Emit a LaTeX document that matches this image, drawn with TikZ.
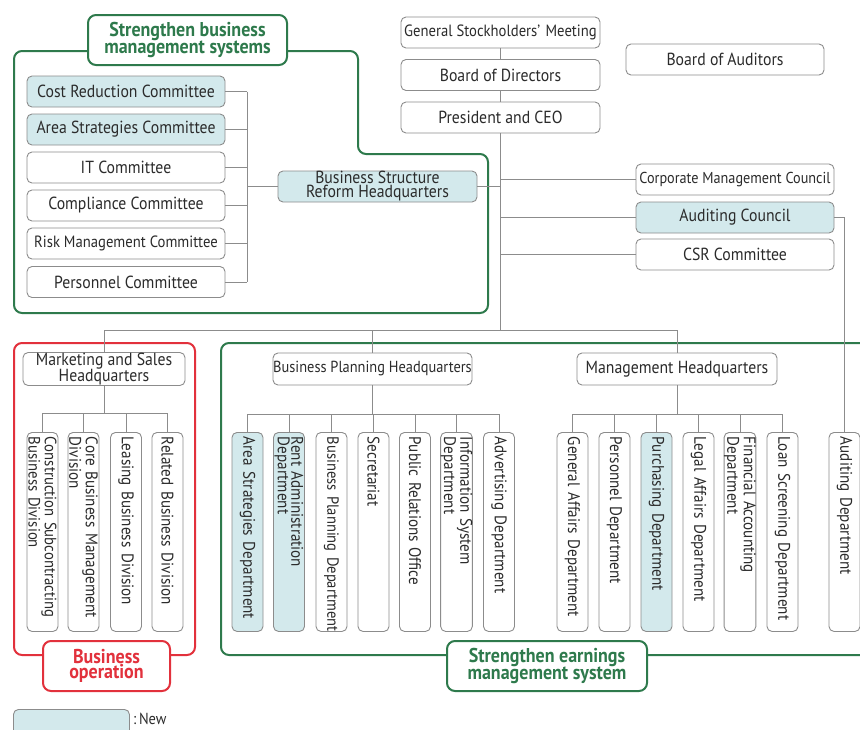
\documentclass[tikz,border=0pt]{standalone}
\usepackage{fontspec}
\setmainfont[FakeStretch=0.9]{PT Sans}
\definecolor{lineg}{HTML}{8C8C8C}
\definecolor{newfill}{HTML}{D3E9EC}
\definecolor{grp}{HTML}{2E7A4C}
\definecolor{opred}{HTML}{E2313C}
\definecolor{txt}{HTML}{2B2B2B}
\begin{document}
\hyphenpenalty=10000
\exhyphenpenalty=10000
\begin{tikzpicture}[x=1pt,y=-1pt,
  every node/.style={font=\fontsize{17.5}{14}\selectfont, text=txt},
  smaller/.style={font=\fontsize{16.3}{14}\selectfont},
  unitbox/.style={draw=lineg, line width=0.9pt, rounded corners=5pt, fill=white,
    minimum height=31pt, inner sep=0pt, align=center},
  newbox/.style={unitbox, fill=newfill},
  vbox/.style={draw=lineg, line width=0.9pt, rounded corners=5pt, fill=white,
    rotate=-90, anchor=west, minimum width=199pt, minimum height=31pt,
    inner xsep=4.5pt, inner ysep=0pt, text width=190pt, align=left,
    font=\fontsize{16.8}{13.5}\selectfont},
  vnew/.style={vbox, fill=newfill},
  vsmall/.style={font=\fontsize{16.2}{13.5}\selectfont},
  conn/.style={draw=lineg, line width=0.9pt},
  grpline/.style={draw=#1, line width=2pt, rounded corners=8pt},
  grplabel/.style={draw=#1, line width=2pt, rounded corners=8pt, fill=white,
    text=#1, font=\bfseries\fontsize{20}{15}\selectfont, align=center, inner sep=0pt}
]
\useasboundingbox (0,0) rectangle (860,729);

% ---- group outlines ----
\draw[grpline=grp] (88,51) -- (14,51) -- (14,313) -- (488,313) -- (488,154)
  -- (358,154) -- (358,51) -- (287,51);
\draw[grpline=opred] (14,343) rectangle (195,655);
\draw[grpline=grp] (870,343) -- (221,343) -- (221,655) -- (870,655);

% ---- top management ----
\node[unitbox, smaller, minimum width=199pt] (gsm) at (500.5,32.5) {General Stockholders'\,\,Meeting};
\node[unitbox, minimum width=199pt] (bod) at (500.5,75) {Board of Directors};
\node[unitbox, minimum width=199pt] (ceo) at (500.5,117.5) {President and CEO};
\node[unitbox, minimum width=198pt] (boa) at (725,59.5) {Board of Auditors};

\node[unitbox, font=\fontsize{15.8}{14}\selectfont, minimum width=198pt] (cmc) at (735,179.5) {Corporate Management Council};
\node[newbox, minimum width=198pt] (audc) at (735,217.5) {Auditing Council};
\node[unitbox, minimum width=198pt] (csr) at (735,254.5) {CSR Committee};

\node[newbox, minimum width=199pt] (bsr) at (377.5,186.5) {Business Structure\\Reform Headquarters};

% ---- committees ----
\node[newbox, minimum width=198pt] (c1) at (126,91.5) {Cost Reduction Committee};
\node[newbox, minimum width=198pt] (c2) at (126,129.5) {Area Strategies Committee};
\node[unitbox, minimum width=198pt] (c3) at (126,167.5) {IT Committee};
\node[unitbox, minimum width=198pt] (c4) at (126,205.5) {Compliance Committee};
\node[unitbox, smaller, minimum width=198pt] (c5) at (126,243.5) {Risk Management Committee};
\node[unitbox, minimum width=198pt] (c6) at (126,282) {Personnel Committee};

% ---- headquarters ----
\node[unitbox, minimum width=162pt, minimum height=32pt] (msh) at (104,369) {Marketing and Sales\\Headquarters};
\node[unitbox, font=\fontsize{16}{14}\selectfont, minimum width=199pt, minimum height=32pt] (bph) at (372.5,369) {Business Planning Headquarters};
\node[unitbox, minimum width=200pt, minimum height=32pt] (mgh) at (677,369) {Management Headquarters};

% ---- divisions and departments ----
\node[vbox, font=\fontsize{16.4}{13.5}\selectfont] (d1) at (42.5,432) {Construction Subcontracting\\Business Division};
\node[vbox] (d2) at (83.5,432) {Core Business Management\\Division};
\node[vbox] (d3) at (126,432) {Leasing Business Division};
\node[vbox] (d4) at (167.5,432) {Related Business Division};

\node[vnew] (p1) at (247.5,432) {Area Strategies Department};
\node[vnew] (p2) at (289,432) {Rent Administration\\Department};
\node[vbox, vsmall] (p3) at (331.5,432) {\mbox{Business Planning Department}};
\node[vbox] (p4) at (373.5,432) {Secretariat};
\node[vbox] (p5) at (415,432) {Public Relations Office};
\node[vbox] (p6) at (456.5,432) {Information System\\Department};
\node[vbox] (p7) at (499,432) {Advertising Department};

\node[vbox] (m1) at (572.5,432) {General Affairs Department};
\node[vbox] (m2) at (614.5,432) {Personnel Department};
\node[vnew] (m3) at (656.5,432) {Purchasing Department};
\node[vbox] (m4) at (698.5,432) {Legal Affairs Department};
\node[vbox] (m5) at (740,432) {Financial Accounting\\Department};
\node[vbox] (m6) at (782.5,432) {Loan Screening Department};

\node[vbox] (aud) at (844.5,432) {Auditing Department};

% ---- connectors ----
\coordinate (spine) at (500.5,330);
\coordinate (brk) at (247,186.5);
\draw[conn] (gsm.south) -- (bod.north);
\draw[conn] (bod.south) -- (ceo.north);
\draw[conn] (ceo.south) -- (spine);
\draw[conn] (bsr.east) -- (bsr.east -| spine);
\draw[conn] (cmc.west) -- (cmc.west -| spine);
\draw[conn] (audc.west) -- (audc.west -| spine);
\draw[conn] (csr.west) -- (csr.west -| spine);
\draw[conn] (audc.east) -- (audc.east -| aud.west) -- (aud.west);

\draw[conn] (c1.east -| brk) -- (c6.east -| brk);
\foreach \c in {c1,c2,c3,c4,c5,c6} \draw[conn] (\c.east) -- (\c.east -| brk);
\draw[conn] (brk) -- (bsr.west);

\draw[conn] (msh.north |- spine) -- (mgh.north |- spine);
\foreach \h in {msh,bph,mgh} \draw[conn] (\h.north |- spine) -- (\h.north);

\coordinate (mbar) at (104,413);
\draw[conn] (msh.south) -- (mbar);
\draw[conn] (d1.west |- mbar) -- (d4.west |- mbar);
\foreach \d in {d1,d2,d3,d4} \draw[conn] (\d.west |- mbar) -- (\d.west);

\coordinate (bbar) at (372.5,414);
\draw[conn] (bph.south) -- (bbar);
\draw[conn] (p1.west |- bbar) -- (p7.west |- bbar);
\foreach \d in {p1,p2,p3,p4,p5,p6,p7} \draw[conn] (\d.west |- bbar) -- (\d.west);

\coordinate (gbar) at (677,414);
\draw[conn] (mgh.south) -- (gbar);
\draw[conn] (m1.west |- gbar) -- (m6.west |- gbar);
\foreach \d in {m1,m2,m3,m4,m5,m6} \draw[conn] (\d.west |- gbar) -- (\d.west);

% ---- group labels ----
\node[grplabel=grp, minimum width=199pt, minimum height=50pt] (lbl1) at (187.5,40) {Strengthen business\\management systems};
\node[grplabel=opred, minimum width=127pt, minimum height=50pt] (lbl2) at (106.5,666) {Business\\operation};
\node[grplabel=grp, minimum width=200pt, minimum height=50pt] (lbl3) at (547,666) {Strengthen earnings\\management system};

% ---- legend ----
\node[newbox, minimum width=116pt, minimum height=34pt, anchor=north west] (key) at (13,709) {};
\node[anchor=west, inner sep=0pt, font=\fontsize{16}{14}\selectfont] (keytxt) at (133,719) {:\,New};
\end{tikzpicture}
\end{document}
